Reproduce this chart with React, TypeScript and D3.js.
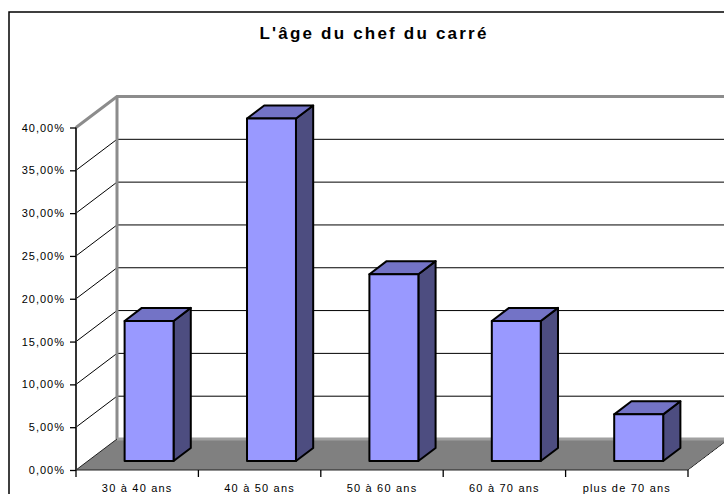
import React, { useEffect, useRef } from "react";
import * as d3 from "d3";

const categories = ["30 à 40 ans", "40 à 50 ans", "50 à 60 ans", "60 à 70 ans", "plus de 70 ans"];
const shares = [16.36, 40.0, 21.82, 16.36, 5.45];
const yTicks = [0, 5, 10, 15, 20, 25, 30, 35, 40];
const title = "L'âge du chef du carré";

const App: React.FC = () => {
  const ref = useRef<SVGSVGElement | null>(null);

  useEffect(() => {
    const svg = d3.select(ref.current);
    svg.selectAll("*").remove();

    const W = 724;
    const H = 494;
    const left = 76;
    const right = 688;
    const depthX = 41;
    const depthY = -31;
    const font = "'Liberation Sans', Arial, sans-serif";

    const fr = d3.formatLocale({ decimal: ",", thousands: " ", grouping: [3], currency: ["", " €"] });
    const fmt = (v: number) => fr.format(".2f")(v) + "%";

    const y = d3.scaleLinear().domain([0, 40]).range([470, 127.5]);
    const x = d3
      .scaleBand()
      .domain(categories)
      .range([left, right])
      .paddingInner(0.6)
      .paddingOuter(0.3);
    const xEdge = d3.scaleLinear().domain([0, categories.length]).range([left, right]);

    // project a point of the front plane back to depth d (0..1)
    const p = (px: number, py: number, d: number): [number, number] => [px + d * depthX, py + d * depthY];
    const poly = (pts: [number, number][]) => pts.map((q) => q.join(",")).join(" ");

    // outer frame
    svg
      .append("rect")
      .attr("x", 9)
      .attr("y", 12)
      .attr("width", W + 20)
      .attr("height", H + 20)
      .attr("fill", "#fff")
      .attr("stroke", "#000")
      .attr("stroke-width", 1.5);

    // title
    svg
      .append("text")
      .attr("x", 374)
      .attr("y", 39)
      .attr("text-anchor", "middle")
      .style("font-family", font)
      .style("font-size", "17px")
      .style("font-weight", "bold")
      .style("letter-spacing", "2.2px")
      .text(title);

    const y0 = y(0);
    const yTop = y(40);

    // floor
    svg
      .append("polygon")
      .attr("points", poly([[left, y0], p(left, y0, 1), p(right, y0, 1), [right, y0]]))
      .attr("fill", "#808080")
      .attr("stroke", "none");

    // side wall gridlines
    svg
      .append("g")
      .selectAll("line")
      .data(yTicks.slice(1, -1))
      .join("line")
      .attr("x1", left)
      .attr("y1", (d) => y(d))
      .attr("x2", (d) => p(left, y(d), 1)[0])
      .attr("y2", (d) => p(left, y(d), 1)[1])
      .attr("stroke", "#000")
      .attr("stroke-width", 1);

    // back wall gridlines
    svg
      .append("g")
      .selectAll("line")
      .data(yTicks.slice(1, -1))
      .join("line")
      .attr("x1", left + depthX)
      .attr("y1", (d) => y(d) + depthY)
      .attr("x2", right + depthX)
      .attr("y2", (d) => y(d) + depthY)
      .attr("stroke", "#000")
      .attr("stroke-width", 1);

    // wall edges (gray)
    const edge = svg.append("g").attr("fill", "none").attr("stroke", "#8c8c8c").attr("stroke-width", 3);
    edge
      .append("polyline")
      .attr("points", poly([[left, yTop], p(left, yTop, 1), p(right, yTop, 1)]));
    edge
      .append("line")
      .attr("x1", left + depthX)
      .attr("y1", yTop + depthY)
      .attr("x2", left + depthX)
      .attr("y2", y0 + depthY);
    edge
      .append("line")
      .attr("x1", left + depthX)
      .attr("y1", y0 + depthY)
      .attr("x2", right + depthX)
      .attr("y2", y0 + depthY)
      .attr("stroke", "#a0a0a0");

    // floor front & right edges
    svg
      .append("polyline")
      .attr("points", poly([p(left, y0, 1), [left, y0], [right, y0], p(right, y0, 1)]))
      .attr("fill", "none")
      .attr("stroke", "#222")
      .attr("stroke-width", 1);
    svg
      .append("line")
      .attr("x1", right)
      .attr("y1", y0)
      .attr("x2", right + depthX)
      .attr("y2", y0 + depthY)
      .attr("stroke", "#fff")
      .attr("stroke-width", 1)
      .attr("transform", "translate(0,1)");

    // front vertical axis
    svg
      .append("line")
      .attr("x1", left)
      .attr("y1", yTop)
      .attr("x2", left)
      .attr("y2", y0)
      .attr("stroke", "#333")
      .attr("stroke-width", 2);

    // y axis ticks + labels
    const yAxis = svg
      .append("g")
      .attr("transform", `translate(${left},0)`)
      .call(d3.axisLeft(y).tickValues(yTicks).tickFormat((d) => fmt(d as number)).tickSize(6).tickPadding(5));
    yAxis.select(".domain").remove();
    yAxis.selectAll("line").attr("stroke", "#000").attr("stroke-width", 1.3);
    yAxis
      .selectAll("text")
      .attr("fill", "#000")
      .style("font-family", font)
      .style("font-size", "11px")
      .style("letter-spacing", "1px");

    // category boundary ticks
    svg
      .append("g")
      .selectAll("line")
      .data(d3.range(categories.length + 1))
      .join("line")
      .attr("x1", (i) => xEdge(i))
      .attr("x2", (i) => xEdge(i))
      .attr("y1", y0)
      .attr("y2", y0 + 7)
      .attr("stroke", "#000")
      .attr("stroke-width", 1.3);

    // category labels
    const xAxis = svg
      .append("g")
      .attr("transform", `translate(0,${y0})`)
      .call(d3.axisBottom(x).tickSize(0).tickPadding(14));
    xAxis.select(".domain").remove();
    xAxis
      .selectAll("text")
      .attr("fill", "#000")
      .style("font-family", font)
      .style("font-size", "11px")
      .style("letter-spacing", "1.2px");

    // bars
    const d0 = 0.29;
    const d1 = 0.71;
    const bars = svg
      .append("g")
      .attr("stroke", "#000")
      .attr("stroke-width", 2)
      .attr("stroke-linejoin", "round");
    categories.forEach((c, i) => {
      const xa = x(c)!;
      const xb = xa + x.bandwidth();
      const yb = y(0);
      const yt = y(shares[i]);
      const g = bars.append("g");
      // side
      g.append("polygon")
        .attr("points", poly([p(xb, yt, d0), p(xb, yt, d1), p(xb, yb, d1), p(xb, yb, d0)]))
        .attr("fill", "#4d4d80");
      // top
      g.append("polygon")
        .attr("points", poly([p(xa, yt, d0), p(xa, yt, d1), p(xb, yt, d1), p(xb, yt, d0)]))
        .attr("fill", "#7373c6");
      // front
      g.append("polygon")
        .attr("points", poly([p(xa, yt, d0), p(xb, yt, d0), p(xb, yb, d0), p(xa, yb, d0)]))
        .attr("fill", "#9999ff");
    });
  }, []);

  return (
    <svg
      ref={ref}
      width={724}
      height={494}
      style={{ position: "absolute", left: 0, top: 0, display: "block", background: "#fff" }}
    />
  );
};

export default App;
